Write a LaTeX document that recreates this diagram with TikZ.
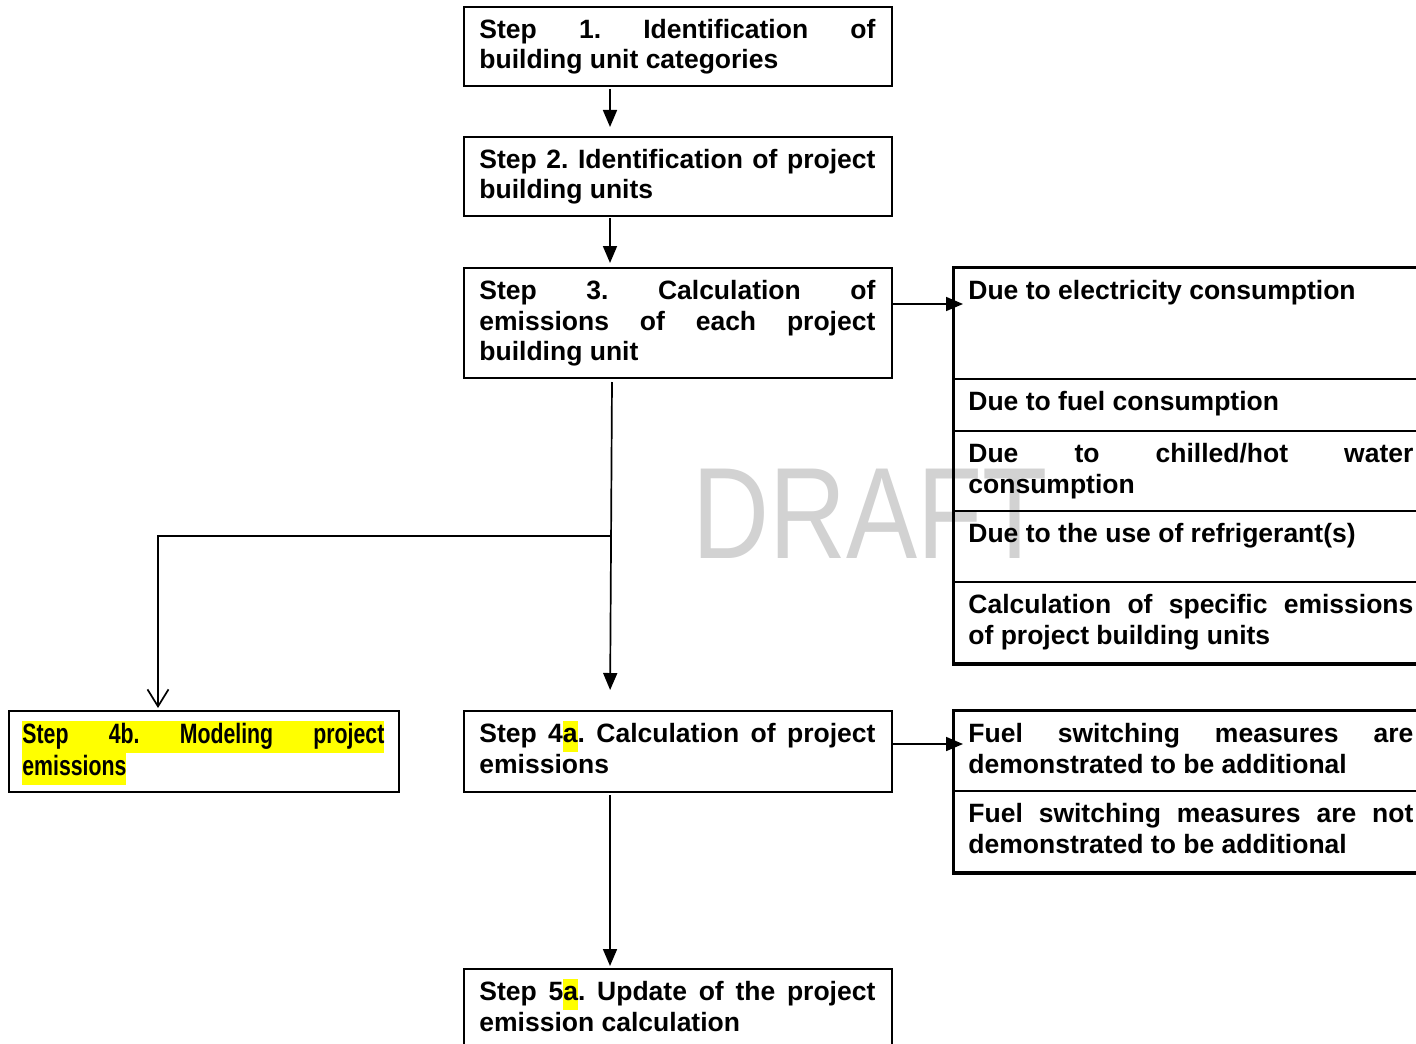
\documentclass[tikz,border=0pt]{standalone}
\usepackage{fontspec}
\setmainfont{Liberation Sans}
\newfontfamily\narrowfont{Liberation Sans}[FakeStretch=0.76]
\usetikzlibrary{arrows.meta}
\hyphenpenalty=10000 \exhyphenpenalty=10000 \tolerance=10000
\frenchspacing
\definecolor{hl}{RGB}{255,255,0}
\definecolor{wmgray}{RGB}{210,210,210}
\setlength{\fboxsep}{0pt}
\newcommand{\hlt}[1]{\colorbox{hl}{\strut #1}}
\begin{document}
\begin{tikzpicture}[x=0.5pt,y=-0.5pt,
  box/.style={draw, line width=1pt, anchor=north west, inner sep=0pt},
  cell/.style={box, minimum width=243.5pt},
  txt/.style={anchor=base west, inner sep=0pt, text width=198pt, align=justify,
    font=\bfseries\fontsize{13.25}{15.25}\selectfont},
  rtxt/.style={txt, text width=222.5pt},
  arr/.style={line width=0.85pt, -{Triangle[length=8.5pt,width=7pt]}},
  oarr/.style={line width=0.85pt, -{Straight Barb[length=8.5pt,width=10.5pt]}}]
\clip (0,0) rectangle (1416,1043);
\fill[white] (0,0) rectangle (1416,1043);

% watermark
\node[anchor=base west, inner sep=0pt, text=wmgray, font=\fontsize{65}{65}\selectfont]
  (draft) at (692,558) {\scalebox{0.82}[1]{DRAFT}};

% main column boxes
\node[box, minimum width=214pt, minimum height=39.5pt] (b1) at (463,6) {};
\node[box, minimum width=214pt, minimum height=39.5pt] (b2) at (463,136) {};
\node[box, minimum width=214pt, minimum height=55pt] (b3) at (463,267) {};
\node[box, minimum width=195pt, minimum height=40.5pt] (b4b) at (8,710) {};
\node[box, minimum width=214pt, minimum height=40.5pt] (b4a) at (463,710) {};
\node[box, minimum width=214pt, minimum height=50pt] (b5) at (463,968) {};

% right group 1
\node[cell, minimum height=55.5pt] (r1) at (953,267) {};
\node[cell, minimum height=26pt] (r2) at (953,378) {};
\node[cell, minimum height=40pt] (r3) at (953,430) {};
\node[cell, minimum height=35.5pt] (r4) at (953,510) {};
\node[cell, minimum height=40.5pt] (r5) at (953,581) {};
\draw[line width=1.5pt] (r1.north west) rectangle (r5.south east);

% right group 2
\node[cell, minimum height=40pt] (s1) at (953,710) {};
\node[cell, minimum height=40.5pt] (s2) at (953,790) {};
\draw[line width=1.5pt] (s1.north west) rectangle (s2.south east);

% texts
\node[txt] (t1) at (479,38.5) {Step 1. Identification of\linebreak building unit categories};
\node[txt] (t2) at (479,168.5) {Step 2. Identification of project\linebreak building units};
\node[txt] (t3) at (479,299.5) {Step 3. Calculation of\linebreak emissions of each project\linebreak building unit};
\node[rtxt] (rt1) at (968,299.5) {Due to electricity consumption};
\node[rtxt] (rt2) at (968,410.5) {Due to fuel consumption};
\node[rtxt] (rt3) at (968,462.5) {Due to chilled/hot water\linebreak consumption};
\node[rtxt] (rt4) at (968,542.5) {Due to the use of refrigerant(s)};
\node[rtxt] (rt5) at (968,613.5) {Calculation of specific emissions\linebreak of project building units};
\node[txt, text width=181pt, align=left, font=\narrowfont\bfseries\fontsize{14}{16}\selectfont] (t4b) at (22,743)
  {\colorbox{hl}{\strut\hbox to 181pt{Step\hfill 4b.\hfill Modeling\hfill project}}\\\colorbox{hl}{\strut emissions}};
\node[txt] (t4a) at (479,742.5) {Step 4\hlt{a}. Calculation of project\linebreak emissions};
\node[rtxt] (st1) at (968,742.5) {Fuel switching measures are\linebreak demonstrated to be additional};
\node[rtxt] (st2) at (968,822.5) {Fuel switching measures are not\linebreak demonstrated to be additional};
\node[txt] (t5) at (479,1000.5) {Step 5\hlt{a}. Update of the project\linebreak emission calculation};

% connectors
\coordinate (vx) at (610,0);
\coordinate (sx) at (612,0);
\coordinate (bx) at (158,0);
\coordinate (vy1) at (0,304);
\coordinate (vy2) at (0,744);
\coordinate (br) at (611,536);
\draw[arr, shorten <=1pt, shorten >=4.5pt] (b1.south -| vx) -- (b2.north -| vx);
\draw[arr, shorten <=0.5pt, shorten >=2pt] (b2.south -| vx) -- (b3.north -| vx);
\draw[arr, shorten >=-5pt] (b3.east |- vy1) -- (r1.west |- vy1);
\draw[arr, shorten <=1.5pt, shorten >=10pt] (b3.south -| sx) -- (b4a.north -| vx);
\draw[oarr, shorten >=1pt] (br) -- (br -| bx) -- (b4b.north -| bx);
\draw[arr, shorten >=-5pt] (b4a.east |- vy2) -- (s1.west |- vy2);
\draw[arr, shorten <=1pt, shorten >=1pt] (b4a.south -| vx) -- (b5.north -| vx);
\end{tikzpicture}
\end{document}
